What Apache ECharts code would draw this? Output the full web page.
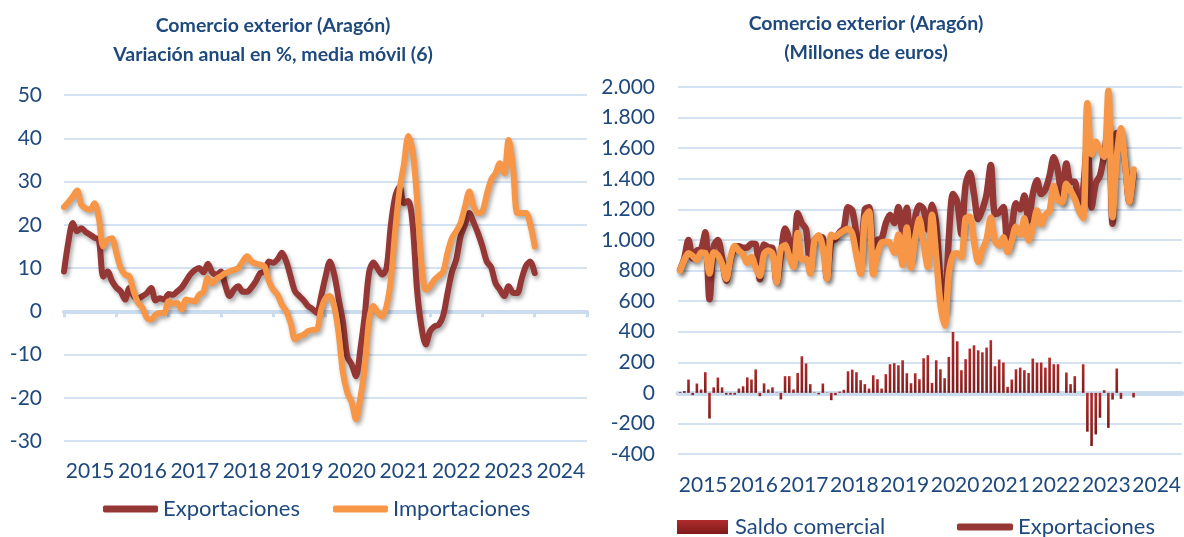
<!DOCTYPE html>
<html><head><meta charset="utf-8">
<script src="https://cdn.jsdelivr.net/npm/echarts/dist/echarts.min.js"></script>
<style>html,body{margin:0;padding:0;background:#fff}#c{width:1184px;height:537px}</style>
</head><body><div id="c"></div>
<script>
// ---------- DATA ----------
const years = ['2015','2016','2017','2018','2019','2020','2021','2022','2023','2024'];

// Left chart: annual variation in %, 6-month moving average (Jan 2015 .. Jan 2024)
const leftExp = [
  9.2, 16, 20.4, 18.5, 19.2, 18.3, 17.7, 17, 16.5, 8,
  9.2, 7, 5.5, 4.6, 2.7, 5.4, 3.5, 3, 3.5, 4.2,
  5.4, 2.5, 3, 2.7, 4, 3.8, 4.6, 5.5, 7, 8.5,
  9.5, 10, 9, 11, 9, 8.5, 9.2, 6, 3.5, 5,
  5.8, 4.5, 4.5, 5.5, 6.9, 8.8, 9.2, 11.5, 11.2, 12,
  13.5, 11.5, 8, 4.6, 3.5, 2.5, 1.2, 0.5, -0.4, 3.5,
  8, 11.5, 8.5, 3, -2.5, -10.5, -12.3, -15, -8.8, -1,
  9, 11.3, 9.8, 8.5, 10, 20, 26.5, 28.8, 25, 25.5,
  20, 5, -3.5, -7.7, -4.6, -3.5, -3.1, -1, 4.2, 9,
  12, 17.3, 20, 22.7, 20.5, 18, 15, 11.5, 10.2, 6.5,
  5, 3.5, 5.8, 4.3, 4.2, 7.5, 10.5, 11.5, 8.8
];
const leftImp = [
  24.1, 25.2, 26.5, 27.9, 24.6, 23.8, 23.5, 25, 21.5, 15,
  16.5, 16.9, 13.5, 10, 8.5, 8.1, 4.5, 2, 0.8, -1.5,
  -1.9, -0.8, -0.4, -0.4, 2.3, 1.8, 1.9, 0.4, 2.7, 2.5,
  2.3, 3.8, 4.5, 7.7, 6.5, 7.5, 8.1, 8.8, 9.2, 9.6,
  10, 11.5, 12.7, 11.5, 11, 10.8, 10.4, 7, 5, 3.8,
  1.5, 0, -2.7, -6.5, -5.8, -5.4, -4.6, -4.3, -4.2, 0.4,
  3, 3.5, 1.2, -5, -14.2, -18.8, -21, -25, -20, -13,
  -2, 1.2, -0.3, -1.2, 1.2, 7.3, 18.8, 28.1, 34, 40.5,
  37, 26, 11.2, 5, 5.8, 7.3, 8.2, 9.2, 13.5, 16.9,
  18.5, 20.4, 24.2, 27.7, 24.2, 22.7, 23.1, 27, 30.4, 31.9,
  34.2, 31.9, 39.6, 33.5, 22.7, 22.7, 22.7, 20, 15
];

// Right chart: millions of euros (Jan 2015 .. Jan 2024)
const rightExp = [
  805, 880, 1000, 880, 930, 940, 1050, 612, 956, 1000,
  880, 733, 868, 948, 958, 948, 951, 975, 973, 743,
  970, 952, 946, 724, 900, 1074, 1000, 844, 1175, 1109,
  1069, 837, 998, 1020, 1011, 750, 985, 1005, 1050, 1080,
  1214, 1192, 1035, 862, 1200, 1214, 890, 1000, 1010, 1110,
  1165, 1110, 1215, 1050, 1210, 880, 1145, 1225, 1200, 1068,
  1230, 1100, 737, 537, 1014, 1300, 1250, 1035, 1360, 1440,
  1300, 1135, 1200, 1300, 1490, 1170, 1180, 1216, 960, 1083,
  1240, 1200, 1290, 1127, 1300, 1390, 1300, 1330, 1420, 1540,
  1450, 1250, 1500, 1380, 1380, 1200, 1330, 1640, 1212, 1370,
  1420, 1560, 1746, 1105, 1700, 1692, 1500, 1250, 1431
];
const rightImp = [
  800, 868, 913, 895, 869, 918, 915, 780, 920, 900,
  844, 745, 880, 960, 930, 905, 850, 888, 820, 765,
  908, 930, 910, 722, 943, 965, 891, 822, 1045, 870,
  877, 780, 995, 1030, 950, 748, 1033, 1020, 1042, 1060,
  1073, 1040, 900, 779, 1143, 1186, 775, 911, 982, 988,
  978, 916, 1035, 837, 1082, 817, 1017, 1136, 974, 822,
  1165, 887, 583, 441, 779, 902, 913, 887, 1140, 1151,
  989, 857, 935, 1004, 1146, 996, 962, 1018, 921, 996,
  1086, 1035, 1142, 997, 1076, 1192, 1102, 1165, 1190, 1353,
  1263, 1245, 1367, 1323, 1270, 1195, 1143, 1894, 1560, 1642,
  1583, 1543, 1975, 1149, 1541, 1731, 1500, 1250, 1461
];
const saldo = [
  5, 12, 87, -15, 61, 22, 135, -168, 36, 100,
  36, -12, -12, -12, 28, 43, 101, 87, 153, -22,
  62, 22, 36, 2, -43, 109, 109, 22, 130, 239,
  192, 57, 3, -10, 61, 2, -48, -15, 8, 20,
  141, 152, 135, 83, 57, 28, 115, 89, 28, 122,
  187, 194, 180, 213, 128, 63, 128, 89, 226, 246,
  65, 213, 154, 96, 235, 398, 337, 148, 220, 289,
  311, 278, 265, 296, 344, 174, 218, 198, 39, 87,
  154, 165, 148, 130, 224, 198, 198, 165, 230, 187,
  187, 0, 133, 57, 109, 0, 187, -254, -348, -272,
  -163, 17, -229, -44, 159, -39, 0, 0, -30
];

// ---------- CHART ----------
const months = [];
years.forEach(y => { for (let m = 1; m <= 12; m++) months.push(y + '-' + String(m).padStart(2, '0')); });
const leftMonths = months.concat(['2025-01']);

const FONT = 'Lato';
const BLUE = '#1F497D';
const GRID = '#D5E2F2';
const AXIS = '#CBDCEF';
const RED = '#953735';
const ORANGE = '#F79646';
const shadow = { shadowColor: 'rgba(0,0,0,0.35)', shadowBlur: 4, shadowOffsetX: 2, shadowOffsetY: 3 };

const chart = echarts.init(document.getElementById('c'));
const thousands = v => String(v).replace(/\B(?=(\d{3})+(?!\d))/g, '.');

function titleText(x, y, t) {
  return { type: 'text', x: x, y: y, style: { text: t, fill: BLUE, font: 'bold 19.5px Lato', align: 'center', verticalAlign: 'middle', textAlign: 'center', textVerticalAlign: 'middle' } };
}

chart.setOption({
  animation: false,
  textStyle: { fontFamily: FONT },
  graphic: [
    titleText(273, 26, 'Comercio exterior (Aragón)'),
    titleText(273, 55, 'Variación anual en %, media móvil (6)'),
    titleText(866, 24, 'Comercio exterior (Aragón)'),
    titleText(866, 53, '(Millones de euros)')
  ],
  grid: [
    { left: 64, top: 95, width: 523, height: 346 },
    { left: 678, top: 87, width: 504, height: 367 }
  ],
  xAxis: [
    { gridIndex: 0, type: 'category', data: leftMonths, boundaryGap: false, position: 'bottom',
      axisLine: { onZero: true, lineStyle: { color: AXIS, width: 4 } },
      axisTick: { show: true, interval: (i) => i % 12 === 0, length: 6, lineStyle: { color: AXIS, width: 3 } },
      axisLabel: { show: false }, splitLine: { show: false } },
    { gridIndex: 0, type: 'category', data: years, boundaryGap: true, position: 'bottom',
      axisLine: { show: false, onZero: false }, axisTick: { show: false },
      axisLabel: { interval: 0, fontSize: 21, color: BLUE, fontFamily: FONT, margin: 20 } },
    { gridIndex: 1, type: 'category', data: months, boundaryGap: true, position: 'bottom',
      axisLine: { onZero: true, lineStyle: { color: AXIS, width: 5 } },
      axisTick: { show: false }, axisLabel: { show: false }, splitLine: { show: false } },
    { gridIndex: 1, type: 'category', data: years, boundaryGap: true, position: 'bottom',
      axisLine: { show: false, onZero: false }, axisTick: { show: false },
      axisLabel: { interval: 0, fontSize: 21, color: BLUE, fontFamily: FONT, margin: 21 } }
  ],
  yAxis: [
    { gridIndex: 0, type: 'value', min: -30, max: 50, interval: 10,
      axisLine: { show: false }, axisTick: { show: false },
      axisLabel: { fontSize: 21, color: BLUE, fontFamily: FONT, margin: 22 },
      splitLine: { lineStyle: { color: GRID, width: 2 } } },
    { gridIndex: 1, type: 'value', min: -400, max: 2000, interval: 200,
      axisLine: { show: false }, axisTick: { show: false },
      axisLabel: { fontSize: 21, color: BLUE, fontFamily: FONT, margin: 23, formatter: thousands },
      splitLine: { lineStyle: { color: GRID, width: 2 } } }
  ],
  legend: [
    { left: 103, top: 498, padding: 0, itemGap: 33, itemWidth: 55, itemHeight: 7, icon: 'roundRect',
      data: ['Exportaciones', 'Importaciones'],
      textStyle: { fontSize: 22, color: BLUE, fontFamily: FONT } },
    { left: 677, top: 516, padding: 0, itemWidth: 51, itemHeight: 14, icon: 'rect',
      data: ['Saldo comercial'], textStyle: { fontSize: 22, color: BLUE, fontFamily: FONT, padding: [0, 0, 0, 2] } },
    { left: 957, top: 516, padding: 0, itemWidth: 56, itemHeight: 7, icon: 'roundRect',
      data: ['Exportaciones'], textStyle: { fontSize: 22, color: BLUE, fontFamily: FONT } }
  ],
  series: [
    { name: 'Exportaciones', type: 'line', xAxisIndex: 0, yAxisIndex: 0, data: leftExp,
      showSymbol: false, smooth: 0.3, color: RED,
      lineStyle: Object.assign({ width: 6, color: RED, cap: 'round', join: 'round' }, shadow) },
    { name: 'Importaciones', type: 'line', xAxisIndex: 0, yAxisIndex: 0, data: leftImp,
      showSymbol: false, smooth: 0.3, color: ORANGE,
      lineStyle: Object.assign({ width: 6, color: ORANGE, cap: 'round', join: 'round' }, shadow) },
    { name: 'Saldo comercial', type: 'bar', xAxisIndex: 2, yAxisIndex: 1, data: saldo,
      barWidth: '62%',
      itemStyle: { color: new echarts.graphic.LinearGradient(0, 0, 0, 1, [
        { offset: 0, color: '#B02B2B' }, { offset: 1, color: '#7E1B1B' }]) } },
    { name: 'Exportaciones', type: 'line', xAxisIndex: 2, yAxisIndex: 1, data: rightExp,
      showSymbol: false, smooth: 0.3, color: RED,
      lineStyle: Object.assign({ width: 6.5, color: RED, cap: 'round', join: 'round' }, shadow) },
    { name: 'Importaciones', type: 'line', xAxisIndex: 2, yAxisIndex: 1, data: rightImp,
      showSymbol: false, smooth: 0.3, color: ORANGE,
      lineStyle: Object.assign({ width: 6.5, color: ORANGE, cap: 'round', join: 'round' }, shadow) }
  ]
});
</script>
</body></html>
